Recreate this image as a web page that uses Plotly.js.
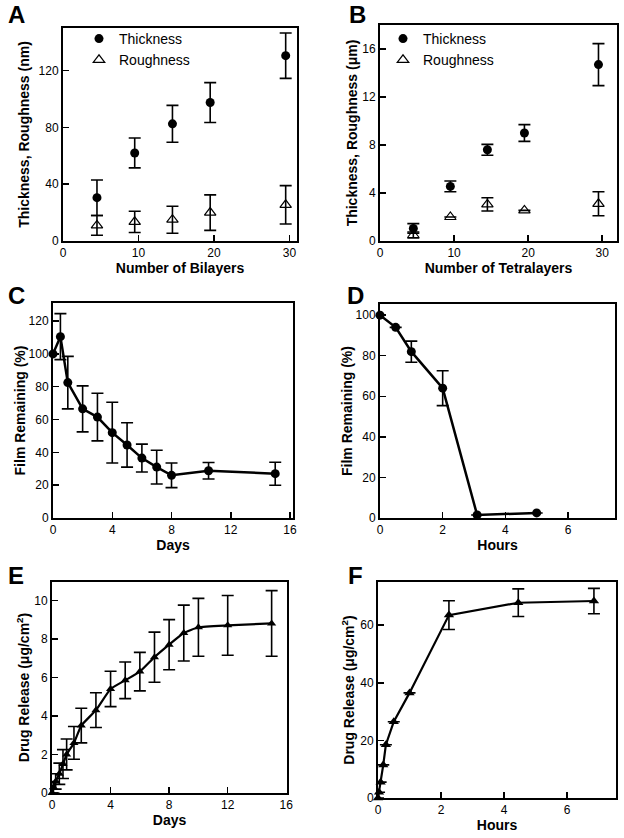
<!DOCTYPE html>
<html>
<head>
<meta charset="utf-8">
<script src="https://cdn.plot.ly/plotly-3.0.1.min.js"></script>
<style>html,body{margin:0;padding:0;background:#fff;}#chart{width:624px;height:838px;}</style>
</head>
<body>
<div id="chart"></div>
<script>
// ---------- DATA ----------
// Panel A: bilayers
const layersA = [4.5, 9.5, 14.5, 19.5, 29.5];
const thickA = [30.5, 62, 82.5, 97.5, 130.5];
const thickAErr = [12.5, 10.5, 13, 14, 16];
const roughA = [11, 13.5, 15, 20, 25.5];
const roughAErr = [7, 7.5, 9.5, 12.5, 13.5];

// Panel B: tetralayers
const layersB = [4.5, 9.5, 14.5, 19.5, 29.5];
const thickB = [1.05, 4.55, 7.6, 9.0, 14.7];
const thickBErr = [0.4, 0.45, 0.45, 0.7, 1.75];
const roughB = [0.5, 2.0, 3.05, 2.55, 3.1];
const roughBErr = [0.25, null, 0.55, null, 1.0];

// Panel C: film remaining vs days
const daysC = [0, 0.5, 1, 2, 3, 4, 5, 6, 7, 8, 10.5, 15];
const filmC = [100, 110.5, 82.5, 66.5, 61.5, 52, 44.5, 36.5, 31, 26, 28.8, 27];
const filmCErr = [null, 14, 16, 14, 14.5, 18.5, 13.5, 8.5, 10.3, 7.5, 5, 7];

// Panel D: film remaining vs hours
const hoursD = [0, 0.5, 1, 2, 3.1, 5];
const filmD = [100, 94, 82, 64, 1.5, 2.5];
const filmDErr = [null, null, 5.2, 8.6, null, null];

// Panel E: drug release vs days
const daysE = [0, 0.1, 0.25, 0.5, 0.75, 1, 1.5, 2, 3, 4, 5, 6, 7, 8, 9, 10, 12, 15];
const drugE = [0, 0.3, 0.6, 1.0, 1.5, 2.0, 2.6, 3.5, 4.3, 5.4, 5.85, 6.3, 7.05, 7.7, 8.3, 8.6, 8.7, 8.8];
const drugEErr = [null, 0.3, 0.4, 0.55, 0.75, 0.8, 0.85, 0.9, 0.9, 0.92, 0.95, 1.0, 1.3, 1.3, 1.45, 1.5, 1.55, 1.7];

// Panel F: drug release vs hours
const hoursF = [0, 0.033, 0.083, 0.167, 0.25, 0.5, 1, 2.25, 4.45, 6.85];
const drugF = [0, 2, 5.5, 11.5, 18.5, 26.5, 36.5, 63.5, 67.8, 68.4];
const drugFErr = [null, null, null, null, null, null, null, 5, 4.8, 4.4];

// ---------- LAYOUT HELPERS ----------
const W = 624, H = 838;
const FONT = 'Liberation Sans, Arial, sans-serif';
function dom(l, r, t, b) { return { x: [l / W, r / W], y: [1 - b / H, 1 - t / H] }; }
const boxes = {
  A: dom(63, 297, 28, 241),
  B: dom(380, 617, 25, 241),
  C: dom(53, 293, 303, 518),
  D: dom(380, 615, 304, 518),
  E: dom(52, 287, 582, 793),
  F: dom(378, 616, 582, 798)
};
function err(arr) {
  return { type: 'data', array: arr, visible: true, color: '#000', thickness: 1.6, width: 6 };
}
const black = '#000';

const traces = [
  { x: layersA, y: thickA, name: 'Thickness', mode: 'markers', xaxis: 'x', yaxis: 'y', legend: 'legend',
    marker: { symbol: 'circle', size: 9, color: black }, error_y: err(thickAErr), cliponaxis: false },
  { x: layersA, y: roughA, name: 'Roughness', mode: 'markers', xaxis: 'x', yaxis: 'y', legend: 'legend',
    marker: { symbol: 'triangle-up-open', size: 10, color: black, line: { width: 1.2, color: black } }, error_y: err(roughAErr), cliponaxis: false },
  { x: layersB, y: thickB, name: 'Thickness', mode: 'markers', xaxis: 'x2', yaxis: 'y2', legend: 'legend2',
    marker: { symbol: 'circle', size: 9, color: black }, error_y: err(thickBErr), cliponaxis: false },
  { x: layersB, y: roughB, name: 'Roughness', mode: 'markers', xaxis: 'x2', yaxis: 'y2', legend: 'legend2',
    marker: { symbol: 'triangle-up-open', size: 10, color: black, line: { width: 1.2, color: black } }, error_y: err(roughBErr), cliponaxis: false },
  { x: daysC, y: filmC, mode: 'lines+markers', xaxis: 'x3', yaxis: 'y3', showlegend: false,
    line: { color: black, width: 2.5 }, marker: { symbol: 'circle', size: 9, color: black }, error_y: err(filmCErr), cliponaxis: false },
  { x: hoursD, y: filmD, mode: 'lines+markers', xaxis: 'x4', yaxis: 'y4', showlegend: false,
    line: { color: black, width: 2.5 }, marker: { symbol: 'circle', size: 9, color: black }, error_y: err(filmDErr), cliponaxis: false },
  { x: daysE, y: drugE, mode: 'lines+markers', xaxis: 'x5', yaxis: 'y5', showlegend: false,
    line: { color: black, width: 2.2, shape: 'spline', smoothing: 0.4 }, marker: { symbol: 'triangle-up', size: 8, color: black }, error_y: err(drugEErr), cliponaxis: false },
  { x: hoursF, y: drugF, mode: 'lines+markers', xaxis: 'x6', yaxis: 'y6', showlegend: false,
    line: { color: black, width: 2.2 }, marker: { symbol: 'triangle-up', size: 9, color: black }, error_y: err(drugFErr), cliponaxis: false }
];

function axis(domain, range, dtick, title, anchor, standoff) {
  return {
    domain: domain, range: range, dtick: dtick, tick0: 0, anchor: anchor,
    showline: true, linecolor: black, linewidth: 2, mirror: true,
    ticks: 'inside', ticklen: 6, tickwidth: 1.5, tickcolor: black,
    showgrid: false, zeroline: false,
    tickfont: { family: FONT, size: 12, color: black },
    title: { text: title, font: { family: FONT, size: 14, color: black, weight: 'bold' }, standoff: standoff }
  };
}
function xa(box, range, dtick, title, anchor) { return axis(box.x, range, dtick, title, anchor, 3); }
function ya(box, range, dtick, title, anchor, so) { return axis(box.y, range, dtick, title, anchor, so); }

const layout = {
  width: W, height: H,
  margin: { l: 0, r: 0, t: 0, b: 0 },
  paper_bgcolor: '#fff', plot_bgcolor: '#fff',
  font: { family: FONT, color: black },
  xaxis: xa(boxes.A, [0, 31], 10, 'Number of Bilayers', 'y'),
  yaxis: ya(boxes.A, [0, 150], 40, 'Thickness, Roughness (nm)', 'x', 6),
  xaxis2: xa(boxes.B, [0, 32], 10, 'Number of Tetralayers', 'y2'),
  yaxis2: ya(boxes.B, [0, 18], 4, 'Thickness, Roughness (μm)', 'x2', 1),
  xaxis3: xa(boxes.C, [0, 16.2], 4, 'Days', 'y3'),
  yaxis3: ya(boxes.C, [0, 131], 20, 'Film Remaining (%)', 'x3', 0),
  xaxis4: xa(boxes.D, [0, 7.5], 2, 'Hours', 'y4'),
  yaxis4: ya(boxes.D, [0, 105.5], 20, 'Film Remaining (%)', 'x4', 0),
  xaxis5: xa(boxes.E, [0, 16.05], 4, 'Days', 'y5'),
  yaxis5: ya(boxes.E, [0, 10.95], 2, 'Drug Release (μg/cm<sup>2</sup>)', 'x5', 1),
  xaxis6: xa(boxes.F, [0, 7.55], 2, 'Hours', 'y6'),
  yaxis6: ya(boxes.F, [0, 75], 20, 'Drug Release (μg/cm<sup>2</sup>)', 'x6', 2),
  legend: { x: 79 / W, y: 1 - 23 / H, xanchor: 'left', yanchor: 'top', bgcolor: 'rgba(0,0,0,0)',
    font: { family: FONT, size: 14, color: black }, tracegroupgap: 0 },
  legend2: { x: 383 / W, y: 1 - 23 / H, xanchor: 'left', yanchor: 'top', bgcolor: 'rgba(0,0,0,0)',
    font: { family: FONT, size: 14, color: black }, tracegroupgap: 0 },
  annotations: [
    ['A', 16, 15], ['B', 357, 15], ['C', 16, 295], ['D', 355, 295], ['E', 16, 575], ['F', 355, 575]
  ].map(p => ({ text: p[0], x: p[1] / W, y: 1 - p[2] / H, xref: 'paper', yref: 'paper',
    xanchor: 'center', yanchor: 'middle', showarrow: false,
    font: { family: FONT, size: 24, color: black, weight: 'bold' } }))
};

Plotly.newPlot('chart', traces, layout, { displayModeBar: false, staticPlot: true });
</script>
</body>
</html>
